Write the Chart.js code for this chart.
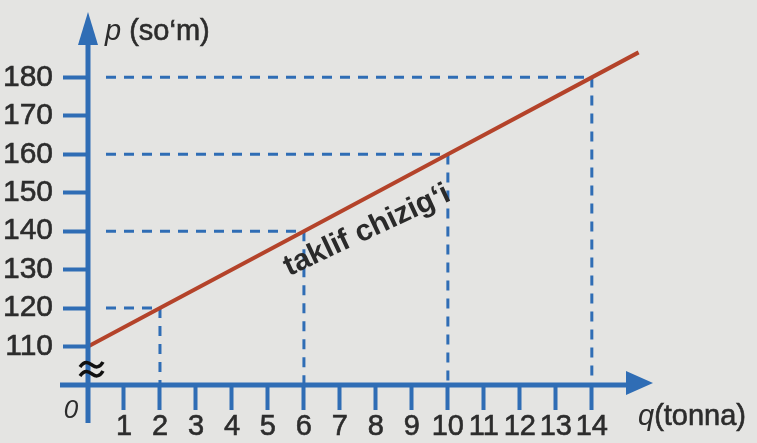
<!DOCTYPE html>
<html>
<head>
<meta charset="utf-8">
<script src="https://cdn.jsdelivr.net/npm/chart.js@4.4.1/dist/chart.umd.min.js"></script>
<style>
  html, body { margin: 0; padding: 0; background: #e4e4e2; }
  #wrap { width: 757px; height: 443px; position: relative; }
</style>
</head>
<body>
<div id="wrap"><canvas id="c"></canvas></div>
<script>
// supply line (taklif chizig'i): q in tonnes, p in so'm
const qLine = [0, 2, 6, 10, 14, 15.3];
const pLine = [110, 120, 140, 160, 180, 186.5];

// points marked with dashed guides
const guideQ = [2, 6, 10, 14];
const guideP = [120, 140, 160, 180];

// tick labels
const qTicks = [1, 2, 3, 4, 5, 6, 7, 8, 9, 10, 11, 12, 13, 14];
const pTicks = [110, 120, 130, 140, 150, 160, 170, 180];

const BLUE = '#2f6db5';
const RED = '#b4432a';
const INK = '#2c2c2c';
const FONT = '"Liberation Sans", Arial, sans-serif';

const datasets = [{
  data: qLine.map((q, i) => ({ x: q, y: pLine[i] })),
  showLine: true,
  borderColor: RED,
  borderWidth: 4,
  pointRadius: 0,
  order: 0
}];

// dashed guide lines from each marked point to both axes
guideQ.forEach((q, i) => {
  const p = guideP[i];
  datasets.push({
    data: [{ x: 0.5, y: p }, { x: q, y: p }, { x: q, y: 100 }],
    showLine: true,
    borderColor: BLUE,
    borderWidth: 3,
    borderDash: [10, 8],
    pointRadius: 0,
    order: 1
  });
});

const axesPlugin = {
  id: 'axes',
  afterDraw(chart) {
    const ctx = chart.ctx;
    const xs = chart.scales.x, ys = chart.scales.y;
    const x0 = xs.getPixelForValue(0);
    const y0 = ys.getPixelForValue(100);
    const top = chart.chartArea.top;
    const right = chart.chartArea.right;

    ctx.save();
    ctx.strokeStyle = BLUE;
    ctx.fillStyle = BLUE;
    ctx.lineWidth = 5;
    ctx.beginPath();
    ctx.moveTo(x0, y0 + 38);
    ctx.lineTo(x0, top + 25);
    ctx.moveTo(x0 - 28, y0);
    ctx.lineTo(right - 22, y0);
    ctx.stroke();

    // arrow heads
    ctx.beginPath();
    ctx.moveTo(x0, top);
    ctx.lineTo(x0 - 10, top + 33);
    ctx.lineTo(x0 + 10, top + 33);
    ctx.closePath();
    ctx.fill();
    ctx.beginPath();
    ctx.moveTo(right, y0 - 2);
    ctx.lineTo(right - 27, y0 - 14);
    ctx.lineTo(right - 27, y0 + 10);
    ctx.closePath();
    ctx.fill();

    // axis titles
    ctx.fillStyle = INK;
    ctx.strokeStyle = INK;
    ctx.lineWidth = 0.6;
    ctx.textBaseline = 'alphabetic';
    ctx.textAlign = 'left';
    ctx.font = 'italic 29px ' + FONT;
    ctx.fillText('p', x0 + 17, top + 28);
    let w = ctx.measureText('p ').width;
    ctx.font = '29px ' + FONT;
    ctx.fillText('(so‘m)', x0 + 17 + w, top + 28);
    ctx.strokeText('(so‘m)', x0 + 17 + w, top + 28);

    ctx.font = 'italic 29px ' + FONT;
    ctx.fillText('q', right - 15, y0 + 40);
    w = ctx.measureText('q').width;
    ctx.font = '29px ' + FONT;
    ctx.fillText('(tonna)', right - 15 + w, y0 + 40);
    ctx.strokeText('(tonna)', right - 15 + w, y0 + 40);

    // origin
    ctx.font = 'italic 26px ' + FONT;
    ctx.textAlign = 'center';
    ctx.fillText('0', x0 - 17, y0 + 33);

    // axis break: two small waves
    ctx.strokeStyle = '#111';
    ctx.lineWidth = 3.5;
    [-20, -11].forEach(dy => {
      const cy = y0 + dy;
      ctx.beginPath();
      ctx.moveTo(x0 - 8, cy + 2);
      ctx.bezierCurveTo(x0 - 3, cy - 5, x0 + 1, cy - 2, x0 + 4, cy);
      ctx.bezierCurveTo(x0 + 7, cy + 2, x0 + 11, cy + 4, x0 + 15, cy - 3);
      ctx.stroke();
    });

    // line label
    ctx.fillStyle = '#2a2a2a';
    ctx.font = 'bold 30px ' + FONT;
    ctx.textBaseline = 'alphabetic';
    ctx.translate(xs.getPixelForValue(7.85), ys.getPixelForValue(138.2));
    ctx.rotate(-25 * Math.PI / 180);
    ctx.fillText('taklif chizig‘i', 0, 0);
    ctx.restore();
  }
};

new Chart(document.getElementById('c'), {
  type: 'scatter',
  data: { datasets },
  options: {
    responsive: true,
    maintainAspectRatio: false,
    animation: false,
    layout: { padding: { top: 12, right: 104, left: 0, bottom: 0 } },
    plugins: { legend: { display: false }, tooltip: { enabled: false } },
    scales: {
      x: {
        type: 'linear', min: 0, max: 15.7,
        afterBuildTicks: s => { s.ticks = qTicks.map(v => ({ value: v })); },
        afterFit: s => { s.height = 58; s.paddingLeft = 0; s.paddingRight = 0; },
        grid: { drawOnChartArea: false, drawTicks: true, tickLength: 25, tickWidth: 4, tickColor: BLUE },
        border: { display: false },
        ticks: {
          autoSkip: false, maxRotation: 0, padding: 0, color: INK,
          textStrokeColor: INK, textStrokeWidth: 0.6,
          font: { family: FONT, size: 29 }
        }
      },
      y: {
        type: 'linear', min: 100, max: 197,
        afterBuildTicks: s => { s.ticks = pTicks.map(v => ({ value: v })); },
        afterFit: s => { s.width = 88; s.paddingTop = 0; s.paddingBottom = 0; },
        grid: { drawOnChartArea: false, drawTicks: true, tickLength: 25, tickWidth: 4, tickColor: BLUE },
        border: { display: false },
        ticks: {
          padding: 10, color: INK,
          textStrokeColor: INK, textStrokeWidth: 0.6,
          font: { family: FONT, size: 30 }
        }
      }
    }
  },
  plugins: [axesPlugin]
});
</script>
</body>
</html>
